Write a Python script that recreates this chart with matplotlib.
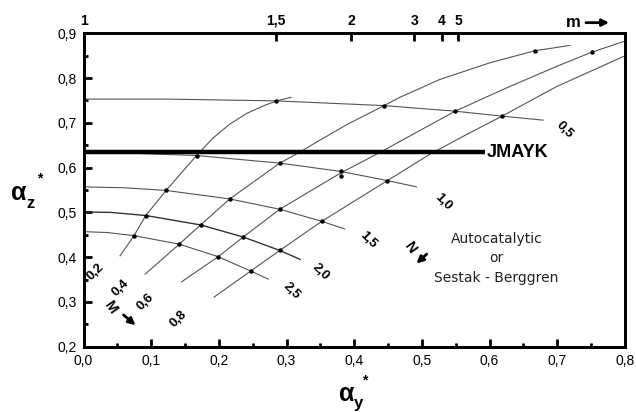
import matplotlib.pyplot as plt
import numpy as np

plt.rcParams['font.family'] = ['Liberation Sans', 'DejaVu Sans']

# ---- curves of constant N ----
n05_x = [0.0, 0.123, 0.285, 0.444, 0.549, 0.618, 0.679]
n05_y = [0.753, 0.753, 0.749, 0.7385, 0.726, 0.715, 0.706]
n10_x = [0.0, 0.167, 0.290, 0.380, 0.449, 0.492]
n10_y = [0.636, 0.627, 0.610, 0.5915, 0.571, 0.557]
n15_x = [0.0, 0.06, 0.122, 0.216, 0.290, 0.352, 0.386]
n15_y = [0.557, 0.555, 0.549, 0.530, 0.507, 0.480, 0.463]
n20_x = [0.0, 0.04, 0.092, 0.173, 0.236, 0.290, 0.320]
n20_y = [0.501, 0.500, 0.493, 0.472, 0.445, 0.415, 0.395]
n25_x = [0.0, 0.035, 0.0746, 0.1415, 0.199, 0.247, 0.273]
n25_y = [0.457, 0.455, 0.448, 0.429, 0.401, 0.369, 0.351]

# ---- curves of constant M ----
m02_x = [0.054, 0.0746, 0.092, 0.122, 0.167, 0.192, 0.216, 0.241, 0.266, 0.285, 0.3065]
m02_y = [0.403, 0.448, 0.493, 0.549, 0.627, 0.667, 0.697, 0.721, 0.738, 0.749, 0.757]
m04_x = [0.091, 0.1415, 0.173, 0.216, 0.290, 0.320, 0.350, 0.389, 0.444, 0.4675, 0.5266, 0.600, 0.667, 0.7186]
m04_y = [0.362, 0.429, 0.472, 0.530, 0.610, 0.635, 0.662, 0.696, 0.7385, 0.757, 0.797, 0.834, 0.861, 0.873]
m06_x = [0.145, 0.199, 0.236, 0.290, 0.380, 0.438, 0.549, 0.625, 0.699, 0.7506, 0.799]
m06_y = [0.345, 0.401, 0.445, 0.507, 0.588, 0.634, 0.726, 0.778, 0.826, 0.8577, 0.882]
m08_x = [0.193, 0.247, 0.290, 0.352, 0.449, 0.512, 0.566, 0.618, 0.699, 0.799]
m08_y = [0.311, 0.369, 0.415, 0.480, 0.571, 0.630, 0.674, 0.7146, 0.781, 0.849]

# intersection dots
dot_x = [0.285, 0.444, 0.549, 0.618,
         0.167, 0.290, 0.380, 0.380, 0.449,
         0.122, 0.216, 0.290, 0.352,
         0.092, 0.173, 0.236, 0.290,
         0.0746, 0.1415, 0.199, 0.247,
         0.667, 0.7506]
dot_y = [0.749, 0.7385, 0.726, 0.715,
         0.627, 0.610, 0.5915, 0.581, 0.571,
         0.549, 0.530, 0.507, 0.480,
         0.493, 0.472, 0.445, 0.415,
         0.448, 0.429, 0.401, 0.369,
         0.861, 0.8577]

# JMAYK line
jmayk_x = [0.0, 0.593]
jmayk_y = [0.634, 0.634]

# axis ticks
x_ticks = [0.0, 0.1, 0.2, 0.3, 0.4, 0.5, 0.6, 0.7, 0.8]
x_labels = ['0,0', '0,1', '0,2', '0,3', '0,4', '0,5', '0,6', '0,7', '0,8']
y_ticks = [0.2, 0.3, 0.4, 0.5, 0.6, 0.7, 0.8, 0.9]
y_labels = ['0,2', '0,3', '0,4', '0,5', '0,6', '0,7', '0,8', '0,9']
m_ticks = [0.0, 0.284, 0.395, 0.489, 0.529, 0.554]
m_labels = ['1', '1,5', '2', '3', '4', '5']

# curve labels
n_names = ['0,5', '1,0', '1,5', '2,0', '2,5']
n_lab_x = [0.711, 0.531, 0.421, 0.350, 0.3075]
n_lab_y = [0.685, 0.524, 0.439, 0.366, 0.3246]
m_names = ['0,2', '0,4', '0,6', '0,8']
m_lab_x = [0.017, 0.054, 0.091, 0.140]
m_lab_y = [0.368, 0.331, 0.3007, 0.262]

fig = plt.figure(figsize=(6.36, 4.12), dpi=100)
ax = fig.add_axes([0.1313, 0.1585, 0.8514, 0.7607])

lc = '#555555'
for xs, ys in [(n05_x, n05_y), (n10_x, n10_y), (n15_x, n15_y), (n25_x, n25_y),
               (m02_x, m02_y), (m04_x, m04_y), (m06_x, m06_y), (m08_x, m08_y)]:
    ax.plot(xs, ys, color=lc, lw=0.8, zorder=2)
ax.plot(n20_x, n20_y, color='#333333', lw=1.0, zorder=2)
ax.plot(dot_x, dot_y, 'o', color='black', ms=2.2, zorder=3)
ax.plot(jmayk_x, jmayk_y, color='black', lw=3.2, solid_capstyle='butt', zorder=4)
ax.text(0.596, 0.634, 'JMAYK', fontsize=13, fontweight='bold', va='center', ha='left')

for name, x, y in zip(n_names, n_lab_x, n_lab_y):
    ax.text(x, y, name, fontsize=9.5, fontweight='bold', rotation=-45,
            ha='center', va='center', rotation_mode='anchor')
for name, x, y in zip(m_names, m_lab_x, m_lab_y):
    ax.text(x, y, name, fontsize=9.5, fontweight='bold', rotation=45,
            ha='center', va='center', rotation_mode='anchor')

# M and N arrows
ax.text(0.040, 0.288, 'M', fontsize=10.5, fontweight='bold', rotation=-55,
        ha='center', va='center', rotation_mode='anchor')
ax.annotate('', xy=(0.0800, 0.2440), xytext=(0.0560, 0.2750),
            arrowprops=dict(arrowstyle='-|>', color='black', lw=2, mutation_scale=10))
ax.text(0.4823, 0.420, 'N', fontsize=10.5, fontweight='bold', rotation=-55,
        ha='center', va='center', rotation_mode='anchor')
ax.annotate('', xy=(0.4890, 0.3815), xytext=(0.5100, 0.4110),
            arrowprops=dict(arrowstyle='-|>', color='black', lw=2, mutation_scale=10))

ax.text(0.610, 0.397, 'Autocatalytic\nor\nSestak - Berggren', fontsize=10,
        family='DejaVu Sans', ha='center', va='center', linespacing=1.5,
        color='#222222')

ax.set_xlim(0, 0.8)
ax.set_ylim(0.2, 0.9)
ax.set_xticks(x_ticks)
ax.set_xticklabels(x_labels)
ax.set_yticks(y_ticks)
ax.set_yticklabels(y_labels)
ax.set_xticks(np.arange(0.05, 0.8, 0.1), minor=True)
ax.set_yticks(np.arange(0.25, 0.9, 0.1), minor=True)
ax.tick_params(which='major', direction='in', length=5.5, width=2, labelsize=10,
               top=False, right=False, pad=5)
ax.tick_params(which='minor', direction='in', length=3, width=2, top=False, right=False)
for s in ax.spines.values():
    s.set_linewidth(2)

# top m axis
ax2 = ax.twiny()
ax2.set_xlim(0, 0.8)
ax2.set_xticks(m_ticks)
ax2.set_xticklabels(m_labels, fontweight='bold')
ax2.tick_params(direction='in', length=6, width=2, labelsize=10, pad=4)
ax2.set_xticks([], minor=True)
for s in ax2.spines.values():
    s.set_linewidth(2)

fig.text(0.9015, 0.945, 'm', fontsize=12, fontweight='bold', ha='center', va='center')
ax.annotate('', xy=(0.962, 0.945), xytext=(0.917, 0.945), xycoords='figure fraction',
            textcoords='figure fraction',
            arrowprops=dict(arrowstyle='-|>', color='black', lw=2, mutation_scale=10))

# axis labels
fig.text(0.029, 0.532, 'α', fontsize=18, fontweight='bold', ha='center', va='center')
fig.text(0.048, 0.507, 'z', fontsize=12, fontweight='bold', ha='center', va='center')
fig.text(0.0618, 0.566, '*', fontsize=10, fontweight='bold', ha='center', va='center')
fig.text(0.5451, 0.043, 'α', fontsize=18, fontweight='bold', ha='center', va='center')
fig.text(0.5629, 0.020, 'y', fontsize=12, fontweight='bold', ha='center', va='center')
fig.text(0.5728, 0.076, '*', fontsize=10, fontweight='bold', ha='center', va='center')

fig.savefig('out.png', dpi=100)
